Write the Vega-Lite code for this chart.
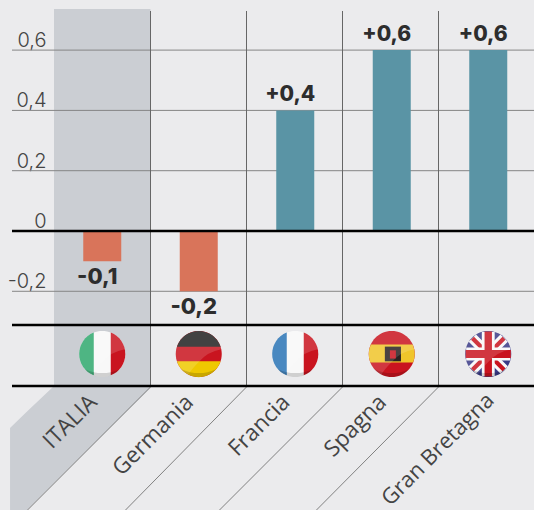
{
"$schema":"https://vega.github.io/schema/vega-lite/v6.json",
"width":480,"height":501,"autosize":{"type":"none"},
"padding":{"left":54,"top":9,"right":0,"bottom":0},
"background":"#ebebed",
"view":{"stroke":null},
"datasets":{
"bars":[{"country":"ITALIA","value":-0.1,"label":"-0,1"},{"country":"Germania","value":-0.2,"label":"-0,2"},{"country":"Francia","value":0.4,"label":"+0,4"},{"country":"Spagna","value":0.6,"label":"+0,6"},{"country":"Gran Bretagna","value":0.6,"label":"+0,6"}],
"grid":[{"level":0.6},{"level":0.4},{"level":0.2},{"level":-0.2}],
"heavy":[{"level":0},{"level":-0.3118},{"level":-0.5141}],
"cols":[{"col":1,"end":-0.281},{"col":2,"end":0.74},{"col":3,"end":1.719},{"col":4,"end":2.729}],
"band":[{"col":-0.458,"top":-0.6534,"bottom":-0.9254},{"col":-0.281,"top":-0.5984,"bottom":-0.9254},{"col":0,"top":-0.5141,"bottom":-0.8358},{"col":1.005,"top":-0.5141,"bottom":-0.5207}],
"flags":[
{"country":"ITALIA","piece":"circle","tint":"white"},{"country":"ITALIA","piece":"left","tint":"green"},{"country":"ITALIA","piece":"right","tint":"red"},{"country":"ITALIA","piece":"gloss","tint":"gloss"},{"country":"ITALIA","piece":"shade","tint":"shade"},
{"country":"Germania","piece":"circle","tint":"red"},{"country":"Germania","piece":"capT","tint":"black"},{"country":"Germania","piece":"capB","tint":"gold"},{"country":"Germania","piece":"gloss","tint":"gloss"},{"country":"Germania","piece":"shade","tint":"shade"},
{"country":"Francia","piece":"circle","tint":"white"},{"country":"Francia","piece":"left","tint":"blue"},{"country":"Francia","piece":"right","tint":"red"},{"country":"Francia","piece":"gloss","tint":"gloss"},{"country":"Francia","piece":"shade","tint":"shade"},
{"country":"Spagna","piece":"circle","tint":"red"},{"country":"Spagna","piece":"stripe","tint":"yellow"},{"country":"Spagna","piece":"emblem","tint":"dark"},{"country":"Spagna","piece":"shield","tint":"red"},{"country":"Spagna","piece":"gloss","tint":"gloss"},{"country":"Spagna","piece":"shade","tint":"shade"},
{"country":"Gran Bretagna","piece":"circle","tint":"navy"},{"country":"Gran Bretagna","piece":"diagW","tint":"white"},{"country":"Gran Bretagna","piece":"diagR","tint":"red"},{"country":"Gran Bretagna","piece":"crossW","tint":"white"},{"country":"Gran Bretagna","piece":"crossR","tint":"red"},{"country":"Gran Bretagna","piece":"gloss","tint":"gloss"},{"country":"Gran Bretagna","piece":"shade","tint":"shade"}
]},
"resolve":{"scale":{"x":"independent"},"axis":{"x":"independent","y":"independent"}},
"layer":[
{"data":{"values":[{"a":1}]},"mark":{"type":"rect","color":"#cbced3"},"encoding":{
 "x":{"datum":0,"type":"quantitative","scale":{"domain":[0,5],"range":[0,480]},"axis":null},"x2":{"datum":1.005},
 "y":{"datum":0.7363,"type":"quantitative","scale":{"domain":[-0.9254,0.7363],"nice":false,"zero":false},"axis":null},"y2":{"datum":-0.5141}}},
{"data":{"name":"band"},"mark":{"type":"area","color":"#cbced3","clip":false},"encoding":{
 "x":{"field":"col","type":"quantitative","scale":{"domain":[0,5],"range":[0,480]},"axis":null},
 "y":{"field":"top","type":"quantitative","scale":{"domain":[-0.9254,0.7363],"nice":false,"zero":false},"axis":null},"y2":{"field":"bottom"}}},
{"data":{"name":"grid"},"mark":{"type":"rule","color":"#858585","strokeWidth":1},"encoding":{
 "x":{"datum":-0.4375,"type":"quantitative","scale":{"domain":[0,5],"range":[0,480]},"axis":null},"x2":{"datum":5},
 "y":{"field":"level","type":"quantitative","scale":{"domain":[-0.9254,0.7363],"nice":false,"zero":false},
  "axis":{"title":null,"values":[-0.2,0,0.2,0.4,0.6],"domain":false,"ticks":false,"grid":false,"labelPadding":8,"labelFont":"Inter","labelFontWeight":300,"labelFontSize":20,"labelColor":"#444444","labelBaseline":"alphabetic","labelOffset":-3.5,"labelOverlap":false,"labelBound":false,"labelFlush":false,
  "labelExpr":"datum.value==0?'0':datum.value<0?'-0,2':replace(format(datum.value,'.1f'),'.',',')"}}}},
{"data":{"name":"cols"},"mark":{"type":"rule","color":"#666666","strokeWidth":1,"xOffset":0.5},"encoding":{
 "x":{"field":"col","type":"quantitative","scale":{"domain":[0,5],"range":[0,480]},"axis":null},
 "y":{"datum":0.7297,"type":"quantitative","scale":{"domain":[-0.9254,0.7363],"nice":false,"zero":false},"axis":null},"y2":{"datum":-0.5174}}},
{"data":{"name":"cols"},"mark":{"type":"rule","color":"#808080","strokeWidth":1,"xOffset":0.5,"x2Offset":0.5},"encoding":{
 "x":{"field":"col","type":"quantitative","scale":{"domain":[0,5],"range":[0,480]},"axis":null},"x2":{"field":"end"},
 "y":{"datum":-0.5174,"type":"quantitative","scale":{"domain":[-0.9254,0.7363],"nice":false,"zero":false},"axis":null},"y2":{"datum":-0.9254}}},
{"data":{"name":"bars"},"mark":{"type":"bar","width":38},"encoding":{
 "x":{"field":"country","type":"nominal","sort":null,"scale":{"domain":["ITALIA","Germania","Francia","Spagna","Gran Bretagna"],"range":[0,482.5],"paddingInner":0,"paddingOuter":0},"axis":null},
 "y":{"field":"value","type":"quantitative","scale":{"domain":[-0.9254,0.7363],"nice":false,"zero":false},"axis":null},"y2":{"datum":0},
 "color":{"condition":{"test":"datum.value>0","value":"#5a94a5"},"value":"#d9745a"}}},
{"data":{"name":"heavy"},"mark":{"type":"rule","color":"#000000","strokeWidth":2.4},"encoding":{
 "x":{"datum":-0.4375,"type":"quantitative","scale":{"domain":[0,5],"range":[0,480]},"axis":null},"x2":{"datum":5},
 "y":{"field":"level","type":"quantitative","scale":{"domain":[-0.9254,0.7363],"nice":false,"zero":false},"axis":null}}},
{"data":{"name":"bars"},"transform":[{"filter":"datum.value>0"}],"mark":{"type":"text","font":"Inter","fontWeight":800,"fontSize":21,"color":"#2d2d2d","baseline":"alphabetic","dx":-5,"dy":-9},"encoding":{
 "x":{"field":"country","type":"nominal","sort":null,"scale":{"domain":["ITALIA","Germania","Francia","Spagna","Gran Bretagna"],"range":[0,482.5],"paddingInner":0,"paddingOuter":0},"axis":null},
 "y":{"field":"value","type":"quantitative","scale":{"domain":[-0.9254,0.7363],"nice":false,"zero":false},"axis":null},
 "text":{"field":"label"}}},
{"data":{"name":"bars"},"transform":[{"filter":"datum.value<0"}],"mark":{"type":"text","font":"Inter","fontWeight":800,"fontSize":22,"color":"#2d2d2d","baseline":"alphabetic","dx":-5,"dy":23},"encoding":{
 "x":{"field":"country","type":"nominal","sort":null,"scale":{"domain":["ITALIA","Germania","Francia","Spagna","Gran Bretagna"],"range":[0,482.5],"paddingInner":0,"paddingOuter":0},"axis":null},
 "y":{"field":"value","type":"quantitative","scale":{"domain":[-0.9254,0.7363],"nice":false,"zero":false},"axis":null},
 "text":{"field":"label"}}},
{"data":{"name":"flags"},"transform":[{"calculate":"-0.4079","as":"row"}],"mark":{"type":"point","filled":true,"size":2116,"opacity":1,"strokeWidth":0},"encoding":{
 "x":{"field":"country","type":"nominal","sort":null,"scale":{"domain":["ITALIA","Germania","Francia","Spagna","Gran Bretagna"],"range":[0,482.5],"paddingInner":0,"paddingOuter":0},"axis":null},
 "y":{"field":"row","type":"quantitative","scale":{"domain":[-0.9254,0.7363],"nice":false,"zero":false},"axis":null},
 "shape":{"field":"piece","type":"nominal","legend":null,"scale":{
  "domain":["circle","left","right","capT","capB","stripe","emblem","shield","diagW","diagR","crossW","crossR","gloss","shade"],
  "range":["M-1,0A1,1 0 1,1 1,0A1,1 0 1,1 -1,0Z","M-0.37,-0.93A1,1 0 0,0 -0.37,0.93Z","M0.37,-0.93A1,1 0 0,1 0.37,0.93Z","M-0.95,-0.31A1,1 0 0,1 0.95,-0.31Z","M-0.95,0.32A1,1 0 0,0 0.95,0.32Z","M-0.91,-0.41A1,1 0 0,0 -0.93,0.37L0.93,0.37A1,1 0 0,0 0.91,-0.41Z","M-0.3,-0.32L0.4,-0.32L0.4,0.32L-0.3,0.32Z","M-0.08,-0.16L0.18,-0.16L0.18,0.2L-0.08,0.2Z","M-0.85,-0.53L-0.53,-0.85L0.85,0.53L0.53,0.85ZM0.85,-0.53L0.53,-0.85L-0.85,0.53L-0.53,0.85Z","M-0.75,-0.62L-0.62,-0.75L0.75,0.62L0.62,0.75ZM0.75,-0.62L0.62,-0.75L-0.75,0.62L-0.62,0.75Z","M-0.28,-0.96L0.28,-0.96L0.28,-0.28L0.96,-0.28L0.96,0.28L0.28,0.28L0.28,0.96L-0.28,0.96L-0.28,0.28L-0.96,0.28L-0.96,-0.28L-0.28,-0.28Z","M-0.16,-0.98L0.16,-0.98L0.16,-0.17L0.98,-0.17L0.98,0.17L0.16,0.17L0.16,0.98L-0.16,0.98L-0.16,0.17L-0.98,0.17L-0.98,-0.17L-0.16,-0.17Z","M-0.98,0.2A1,1 0 0,1 0.98,-0.2Q0.4,-0.1 0,0.35Q-0.3,0.65 -0.45,0.89A1,1 0 0,1 -0.98,0.2Z","M-0.75,0.66A1,1 0 0,0 0.75,0.66Q0,1 -0.75,0.66Z"]}},
 "color":{"field":"tint","type":"nominal","legend":null,"scale":{
  "domain":["white","green","red","black","gold","yellow","blue","navy","dark","gloss","shade"],
  "range":["#f8f8f8","#2fa86e","#c9141f","#222222","#efc800","#f0c52b","#2a74b5","#3a3a86","#2a2222","rgba(255,255,255,0.15)","rgba(0,0,0,0.16)"]}}}},
{"data":{"name":"bars"},"transform":[{"filter":"datum.country!='Gran Bretagna'"},{"calculate":"-0.556","as":"row"}],"mark":{"type":"text","font":"Open Sans","fontSize":22.5,"color":"#444444","angle":315,"align":"right","baseline":"middle","xOffset":-9},"encoding":{
 "x":{"field":"country","type":"nominal","sort":null,"scale":{"domain":["ITALIA","Germania","Francia","Spagna","Gran Bretagna"],"range":[0,482.5],"paddingInner":0,"paddingOuter":0},"axis":null},
 "y":{"field":"row","type":"quantitative","scale":{"domain":[-0.9254,0.7363],"nice":false,"zero":false},"axis":null},
 "text":{"field":"country"}}},
{"data":{"name":"bars"},"transform":[{"filter":"datum.country=='Gran Bretagna'"},{"calculate":"-0.55","as":"row"}],"mark":{"type":"text","font":"Open Sans","fontSize":21.8,"color":"#444444","angle":315,"align":"right","baseline":"middle","xOffset":2},"encoding":{
 "x":{"field":"country","type":"nominal","sort":null,"scale":{"domain":["ITALIA","Germania","Francia","Spagna","Gran Bretagna"],"range":[0,482.5],"paddingInner":0,"paddingOuter":0},"axis":null},
 "y":{"field":"row","type":"quantitative","scale":{"domain":[-0.9254,0.7363],"nice":false,"zero":false},"axis":null},
 "text":{"field":"country"}}}
]}
